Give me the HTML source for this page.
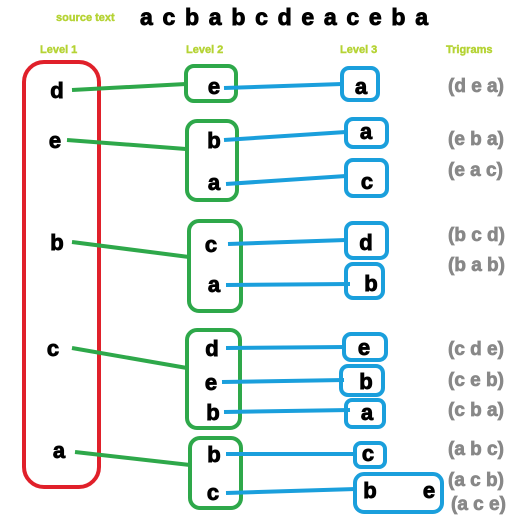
<!DOCTYPE html>
<html><head><meta charset="utf-8"><style>
body{margin:0;background:#fff;}
svg{display:block;font-family:"Liberation Sans",Arial,sans-serif;font-weight:bold;}
</style></head><body>
<svg width="529" height="523" viewBox="0 0 529 523">
<text x="56" y="21" font-size="11" fill="#b5d334" stroke="#b5d334" stroke-width="0.4">source text</text>
<text x="140" y="25" font-size="23" fill="#000" stroke="#000" stroke-width="0.9" textLength="288" lengthAdjust="spacing">a c b a b c d e a c e b a</text>
<g font-size="11" fill="#b5d334" stroke="#b5d334" stroke-width="0.4">
<text x="40" y="53">Level 1</text>
<text x="186" y="53">Level 2</text>
<text x="340" y="53">Level 3</text>
<text x="446" y="53">Trigrams</text>
</g>
<rect x="24" y="62" width="75" height="425" rx="20" fill="none" stroke="#e0202a" stroke-width="4"/>
<g fill="none" stroke="#2ea84a" stroke-width="4">
<rect x="186" y="66" width="50" height="35" rx="8"/>
<rect x="187" y="121" width="50" height="79" rx="10"/>
<rect x="189" y="221" width="52" height="90" rx="10"/>
<rect x="187" y="330" width="53" height="98" rx="10"/>
<rect x="190" y="438" width="51" height="70" rx="10"/>
<line x1="72" y1="90" x2="186" y2="84"/>
<line x1="67" y1="140" x2="186" y2="149"/>
<line x1="72" y1="242" x2="189" y2="257"/>
<line x1="72" y1="348" x2="187" y2="368"/>
<line x1="75" y1="452" x2="190" y2="465"/>
</g>
<g fill="none" stroke="#1a9fdc" stroke-width="4">
<rect x="342" y="68" width="36" height="32" rx="7"/>
<rect x="346" y="119" width="41" height="28" rx="7"/>
<rect x="346" y="160" width="41" height="36" rx="7"/>
<rect x="346" y="223" width="41" height="35" rx="7"/>
<rect x="346" y="264" width="37" height="34" rx="7"/>
<rect x="344" y="334" width="42" height="26" rx="7"/>
<rect x="341" y="366" width="42" height="29" rx="7"/>
<rect x="346" y="400" width="38" height="27" rx="6"/>
<rect x="355" y="443" width="30" height="24" rx="6"/>
<rect x="355" y="474" width="87" height="38" rx="9"/>
<line x1="224" y1="88" x2="342" y2="84"/>
<line x1="224" y1="140" x2="346" y2="132"/>
<line x1="226" y1="184" x2="346" y2="176"/>
<line x1="228" y1="244" x2="346" y2="240"/>
<line x1="226" y1="285" x2="350" y2="284"/>
<line x1="226" y1="348" x2="346" y2="347"/>
<line x1="222" y1="382" x2="344" y2="380"/>
<line x1="224" y1="412" x2="350" y2="410"/>
<line x1="226" y1="454" x2="355" y2="454"/>
<line x1="226" y1="493" x2="356" y2="489"/>
</g>
<g font-size="22" fill="#000" stroke="#000" stroke-width="0.9" text-anchor="middle">
<text x="57" y="98">d</text><text x="55" y="148">e</text><text x="57" y="250">b</text><text x="53" y="356">c</text><text x="59" y="458">a</text>
<text x="214" y="94">e</text><text x="214" y="148">b</text><text x="214" y="190">a</text><text x="211" y="252">c</text><text x="214" y="292">a</text>
<text x="212" y="356">d</text><text x="211" y="390">e</text><text x="213" y="420">b</text><text x="214" y="462">b</text><text x="213" y="500">c</text>
<text x="361" y="94">a</text><text x="366" y="139">a</text><text x="367" y="189">c</text><text x="366" y="250">d</text><text x="371" y="291">b</text>
<text x="364" y="355">e</text><text x="366" y="389">b</text><text x="367" y="420">a</text><text x="368" y="461">c</text><text x="370" y="498">b</text><text x="429" y="498">e</text>
</g>
<g font-size="19" fill="#888" stroke="#888" stroke-width="0.7">
<text x="448" y="92">(d e a)</text>
<text x="448" y="145">(e b a)</text>
<text x="448" y="176">(e a c)</text>
<text x="448" y="241">(b c d)</text>
<text x="448" y="271">(b a b)</text>
<text x="448" y="355">(c d e)</text>
<text x="448" y="386">(c e b)</text>
<text x="448" y="416">(c b a)</text>
<text x="448" y="455">(a b c)</text>
<text x="448" y="486">(a c b)</text>
<text x="451" y="510">(a c e)</text>
</g>
</svg>
</body></html>
